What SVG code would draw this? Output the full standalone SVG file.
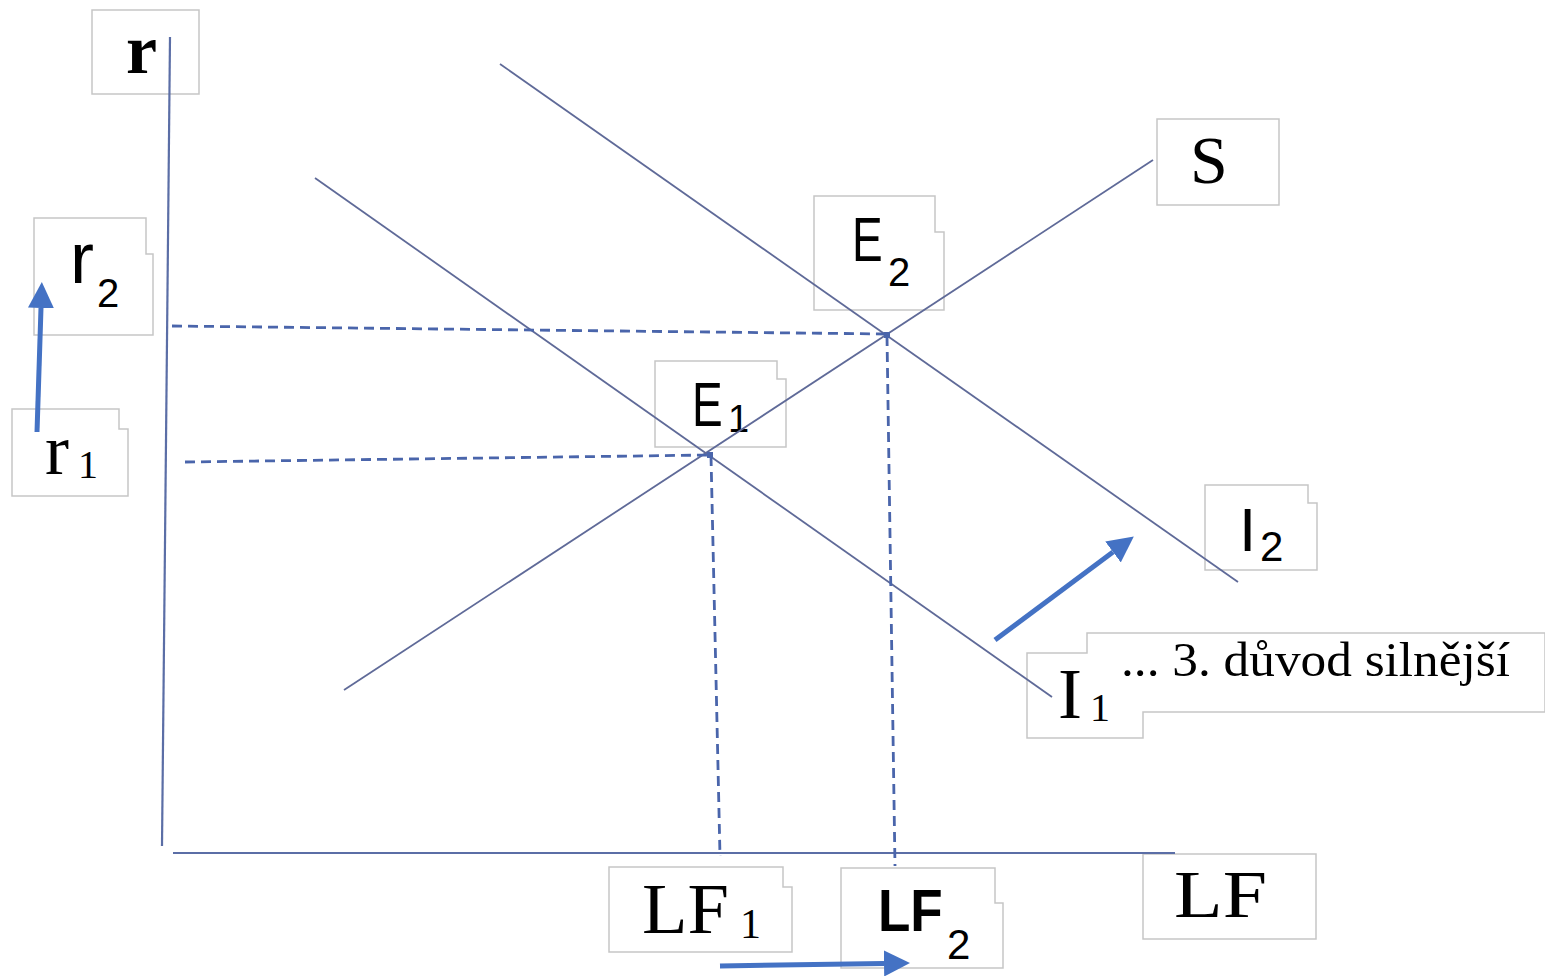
<svg xmlns="http://www.w3.org/2000/svg" width="1545" height="979" viewBox="0 0 1545 979">
<style>
.box{fill:#ffffff;stroke:#c6c6c6;stroke-width:1.5}
.ln{stroke:#5f6a98;stroke-width:1.8;fill:none}
.ax{stroke:#5b6ea6;stroke-width:2.2;fill:none}
.dash{stroke:#4a65ab;stroke-width:2.8;stroke-dasharray:10 6;fill:none}
.arr{stroke:#4472c4;stroke-width:5;fill:none}
.serif{font-family:"Liberation Serif","Times New Roman",serif;fill:#000}
.sans{font-family:"Liberation Sans",Arial,sans-serif;fill:#000}
</style>
<defs>
<marker id="ah" viewBox="0 -13 26 26" refX="0" refY="0" markerWidth="26" markerHeight="26" markerUnits="userSpaceOnUse" orient="auto">
<path d="M0,-13 L26,0 L0,13 Z" fill="#4472c4"/>
</marker>
</defs>
<rect width="1545" height="979" fill="#ffffff"/>

<g id="node-r"><rect class="box" x="92" y="10" width="107" height="84"/><text class="serif" x="126" y="73" font-size="70" font-weight="bold">r</text></g>
<g id="node-r2"><path class="box" d="M34,218 H146 V254 H153 V335 H34 Z"/><text class="sans" x="70" y="283" font-size="72">r</text><text class="sans" x="97" y="307" font-size="40">2</text></g>
<g id="node-r1"><path class="box" d="M12,409 H119 V429 H128 V496 H12 Z"/><text class="serif" x="45" y="474" font-size="72">r</text><text class="serif" x="78" y="478" font-size="40">1</text></g>
<g id="node-E2"><path class="box" d="M814,196 H935 V232 H944 V310 H814 Z"/><text class="sans" transform="translate(852,261) scale(1,1.35)" font-size="46">E</text><text class="sans" x="888" y="286" font-size="40">2</text></g>
<g id="node-E1"><path class="box" d="M655,361 H777 V379 H786 V447 H655 Z"/><text class="sans" transform="translate(692,426) scale(1,1.35)" font-size="46">E</text><text class="sans" x="728" y="432" font-size="38">1</text></g>
<g id="node-S"><rect class="box" x="1157" y="119" width="122" height="86"/><text class="serif" x="1190" y="183" font-size="68">S</text></g>
<g id="node-I2"><path class="box" d="M1205,485 H1308 V503 H1317 V570 H1205 Z"/><text class="sans" x="1239" y="551" font-size="62">I</text><text class="sans" x="1260" y="561" font-size="42">2</text></g>
<g id="node-I1"><path class="box" d="M1027,653 H1087 V633 H1545 V712 H1143 V738 H1027 Z"/><text class="serif" x="1058" y="718" font-size="72">I</text><text class="serif" x="1090" y="721" font-size="40">1</text><text class="serif" x="1121" y="676" font-size="48" textLength="389" lengthAdjust="spacingAndGlyphs">... 3. důvod silnější</text></g>
<g id="node-LF1"><path class="box" d="M609,867 H783 V887 H792 V952 H609 Z"/><text class="serif" x="642" y="933" font-size="72" textLength="87" lengthAdjust="spacingAndGlyphs">LF</text><text class="serif" x="740" y="938" font-size="42">1</text></g>
<g id="node-LF2"><path class="box" d="M841,868 H995 V903 H1003 V968 H841 Z"/><text class="sans" transform="translate(878,931) scale(1,1.13)" font-size="53" font-weight="bold">LF</text><text class="sans" x="947" y="959" font-size="42">2</text></g>
<g id="node-LF"><rect class="box" x="1143" y="854" width="173" height="85"/><text class="serif" x="1174" y="917" font-size="68" textLength="93" lengthAdjust="spacingAndGlyphs">LF</text></g>

<g id="connectors">
<line class="ax" x1="170" y1="37" x2="162" y2="846"/>
<line class="ax" x1="173" y1="853" x2="1175" y2="853"/>
<line class="ln" x1="315" y1="178" x2="1052" y2="697"/>
<line class="ln" x1="500" y1="64" x2="1238" y2="582"/>
<line class="ln" x1="344" y1="690" x2="1153" y2="160"/>
<line class="dash" x1="172" y1="326" x2="887" y2="334"/>
<line class="dash" x1="887" y1="336" x2="895" y2="866"/>
<line class="dash" x1="185" y1="462" x2="710" y2="455"/>
<line class="dash" x1="711" y1="456" x2="720" y2="856"/>
<rect x="884" y="332" width="6" height="6" fill="#4a65ab"/>
<rect x="707" y="452" width="6" height="6" fill="#4a65ab"/>
<line class="arr" x1="37" y1="432" x2="41" y2="308" marker-end="url(#ah)"/>
<line class="arr" x1="995" y1="640" x2="1113" y2="552" marker-end="url(#ah)"/>
<line class="arr" x1="720" y1="966" x2="884" y2="963.5" marker-end="url(#ah)"/>
</g>
</svg>
